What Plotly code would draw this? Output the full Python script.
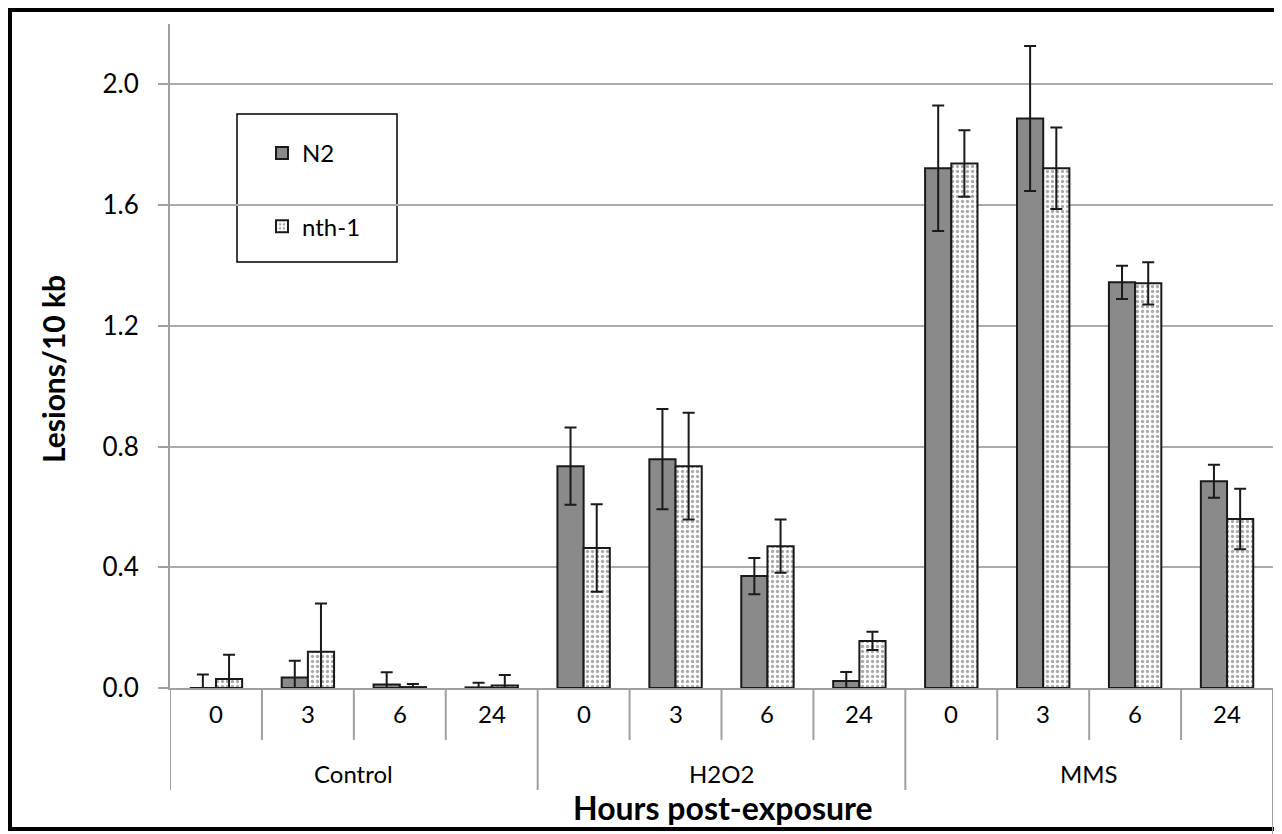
import plotly.graph_objects as go

groups = ["Control", "H2O2", "MMS"]
hour_labels = ["0", "3", "6", "24"]
treatments = ["Control"] * 4 + ["H2O2"] * 4 + ["MMS"] * 4
hours = hour_labels * 3

n2_values = [0.0, 0.035, 0.012, 0.002, 0.735, 0.758, 0.371, 0.023, 1.722, 1.887, 1.344, 0.685]
n2_errors = [0.045, 0.055, 0.04, 0.015, 0.128, 0.166, 0.06, 0.03, 0.208, 0.24, 0.055, 0.055]
nth1_values = [0.03, 0.12, 0.003, 0.008, 0.464, 0.735, 0.47, 0.156, 1.738, 1.722, 1.341, 0.56]
nth1_errors = [0.08, 0.16, 0.01, 0.035, 0.145, 0.177, 0.088, 0.03, 0.11, 0.135, 0.07, 0.1]

keys = [f"{t}|{h}" for t, h in zip(treatments, hours)]

FONT = "Lato, 'Open Sans', sans-serif"
GRAY = "#a0a0a0"

W, H = 1282, 834
OFF = 8  # page body margin
L, R, T, B = 162, 17, 16, 154
pw, ph = W - L - R, H - T - B


def px_x(s):
    return (s - OFF - L) / pw


def px_y(s):
    return (H - B - (s - OFF)) / ph


fig = go.Figure()
fig.add_trace(go.Bar(
    name="N2", x=keys, y=n2_values,
    marker=dict(color="#8a8a8a", line=dict(color="#1a1a1a", width=2)),
    error_y=dict(type="data", array=n2_errors, visible=True, color="#1a1a1a", thickness=2, width=6),
    legendgroup="a",
))
fig.add_trace(go.Bar(
    name="nth-1", x=keys, y=nth1_values,
    marker=dict(color="white", line=dict(color="#1a1a1a", width=2),
                pattern=dict(shape=".", fgcolor="#555555", bgcolor="white", size=5, solidity=0.35)),
    error_y=dict(type="data", array=nth1_errors, visible=True, color="#1a1a1a", thickness=2, width=6),
    legendgroup="b",
))

shapes = [
    # legend box
    dict(type="rect", xref="paper", yref="paper",
         x0=px_x(237), x1=px_x(397), y0=px_y(262), y1=px_y(114),
         line=dict(color="black", width=1.5), fillcolor="white", layer="below"),
    # outer frame
    dict(type="rect", xref="paper", yref="paper",
         x0=px_x(10), x1=px_x(1277), y0=px_y(829), y1=px_y(10),
         line=dict(color="black", width=4), fillcolor="rgba(0,0,0,0)"),
]
annotations = []

n = len(keys)
for i in range(n + 1):
    xb = i - 0.5
    if i % 4 == 0:
        ybot = px_y(790) if i < n else px_y(834)
    else:
        ybot = px_y(740)
    shapes.append(dict(type="line", xref="x", yref="paper", x0=xb, x1=xb, y0=0, y1=ybot,
                       line=dict(color=GRAY, width=2)))

for i, h in enumerate(hours):
    annotations.append(dict(text=h, xref="x", yref="paper", x=i, y=px_y(713),
                            xanchor="center", yanchor="middle", showarrow=False,
                            font=dict(size=24, family=FONT, color="black")))
for gi, g in enumerate(groups):
    annotations.append(dict(text=g, xref="x", yref="paper", x=gi * 4 + 1.5, y=px_y(773),
                            xanchor="center", yanchor="middle", showarrow=False,
                            font=dict(size=24, family=FONT, color="black")))

annotations.append(dict(text="<b>Hours post-exposure</b>", xref="paper", yref="paper",
                        x=px_x(723), y=px_y(807), xanchor="center", yanchor="middle",
                        showarrow=False, font=dict(size=32, family=FONT, color="black")))
annotations.append(dict(text="<b>Lesions/10 kb</b>", xref="paper", yref="paper",
                        x=px_x(53), y=px_y(369), xanchor="center", yanchor="middle",
                        textangle=-90, showarrow=False,
                        font=dict(size=30, family=FONT, color="black")))

fig.update_layout(
    width=W, height=H,
    margin=dict(l=L, r=R, t=T, b=B),
    paper_bgcolor="white", plot_bgcolor="white",
    barmode="group", bargap=0.43, bargroupgap=0.0,
    font=dict(family=FONT, color="black", size=20),
    showlegend=True,
    legend=dict(x=px_x(262), y=px_y(131), xanchor="left", yanchor="top",
                bgcolor="rgba(0,0,0,0)", borderwidth=0,
                font=dict(size=24, family=FONT), tracegroupgap=39,
                traceorder="grouped"),
    xaxis=dict(type="category", categoryorder="array", categoryarray=keys,
               range=[-0.5, n - 0.5], showticklabels=False, ticks="",
               showline=True, linecolor=GRAY, linewidth=2, showgrid=False, zeroline=False),
    yaxis=dict(range=[0, 2.2], dtick=0.4, tickformat=".1f", showgrid=True,
               gridcolor="#ababab", gridwidth=2, showline=True, linecolor=GRAY, linewidth=2,
               ticks="outside", ticklen=10, tickcolor=GRAY, tickwidth=2,
               ticklabelstandoff=14,
               tickfont=dict(size=26, family=FONT, color="black"), zeroline=False),
    shapes=shapes,
    annotations=annotations,
)

fig.write_html("out.html")
